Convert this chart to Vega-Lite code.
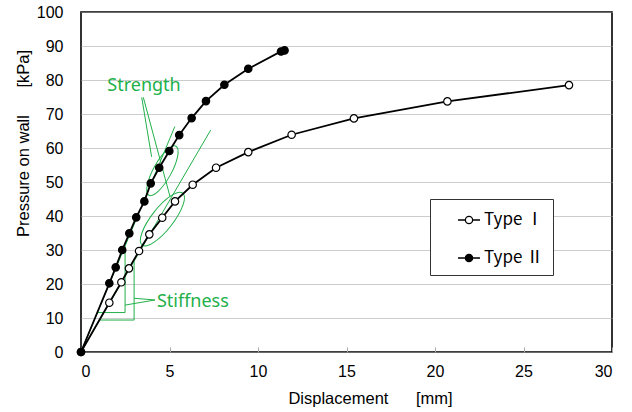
{
  "$schema": "https://vega.github.io/schema/vega-lite/v6.json",
  "width": 531,
  "height": 340,
  "autosize": {"type": "none"},
  "padding": {"left": 81, "top": 12, "right": 20, "bottom": 60},
  "background": "white",
  "config": {
    "view": {"stroke": "black", "strokeWidth": 1.6},
    "font": "Liberation Sans"
  },
  "datasets": {
    "curves": [
      {"type": "Type Ⅰ", "x": 0, "y": 0},
      {"type": "Type Ⅰ", "x": 1.6, "y": 14.5},
      {"type": "Type Ⅰ", "x": 2.28, "y": 20.5},
      {"type": "Type Ⅰ", "x": 2.71, "y": 24.6},
      {"type": "Type Ⅰ", "x": 3.28, "y": 29.7},
      {"type": "Type Ⅰ", "x": 3.86, "y": 34.6},
      {"type": "Type Ⅰ", "x": 4.59, "y": 39.5},
      {"type": "Type Ⅰ", "x": 5.31, "y": 44.3},
      {"type": "Type Ⅰ", "x": 6.31, "y": 49.2},
      {"type": "Type Ⅰ", "x": 7.63, "y": 54.2},
      {"type": "Type Ⅰ", "x": 9.45, "y": 58.8},
      {"type": "Type Ⅰ", "x": 11.9, "y": 63.9},
      {"type": "Type Ⅰ", "x": 15.42, "y": 68.7},
      {"type": "Type Ⅰ", "x": 20.7, "y": 73.7},
      {"type": "Type Ⅰ", "x": 27.57, "y": 78.5},
      {"type": "Type Ⅱ", "x": 0, "y": 0},
      {"type": "Type Ⅱ", "x": 1.6, "y": 20.2},
      {"type": "Type Ⅱ", "x": 1.96, "y": 24.9},
      {"type": "Type Ⅱ", "x": 2.33, "y": 30.0},
      {"type": "Type Ⅱ", "x": 2.73, "y": 34.9},
      {"type": "Type Ⅱ", "x": 3.12, "y": 39.6},
      {"type": "Type Ⅱ", "x": 3.58, "y": 44.3},
      {"type": "Type Ⅱ", "x": 3.94, "y": 49.6},
      {"type": "Type Ⅱ", "x": 4.42, "y": 54.2},
      {"type": "Type Ⅱ", "x": 4.99, "y": 59.1},
      {"type": "Type Ⅱ", "x": 5.55, "y": 63.8},
      {"type": "Type Ⅱ", "x": 6.25, "y": 68.8},
      {"type": "Type Ⅱ", "x": 7.06, "y": 73.8},
      {"type": "Type Ⅱ", "x": 8.1, "y": 78.6},
      {"type": "Type Ⅱ", "x": 9.45, "y": 83.3},
      {"type": "Type Ⅱ", "x": 11.3, "y": 88.4},
      {"type": "Type Ⅱ", "x": 11.5, "y": 88.7}
    ],
    "ann": [
      {"id": "A", "o": 1, "x": 0, "y": 0},
      {"id": "A", "o": 2, "x": 5.3, "y": 66.3},
      {"id": "B", "o": 1, "x": 0, "y": 0},
      {"id": "B", "o": 2, "x": 7.33, "y": 65.3},
      {"id": "T2", "o": 1, "x": 0.93, "y": 11.6},
      {"id": "T2", "o": 2, "x": 2.49, "y": 11.6},
      {"id": "T2", "o": 3, "x": 2.49, "y": 31.1},
      {"id": "T1", "o": 1, "x": 1.06, "y": 9.4},
      {"id": "T1", "o": 2, "x": 3.0, "y": 9.4},
      {"id": "T1", "o": 3, "x": 3.0, "y": 26.7},
      {"id": "L1", "o": 1, "x": 4.18, "y": 15.3},
      {"id": "L1", "o": 2, "x": 2.49, "y": 13.8},
      {"id": "L2", "o": 1, "x": 4.18, "y": 15.3},
      {"id": "L2", "o": 2, "x": 3.0, "y": 15.8},
      {"id": "S1", "o": 1, "x": 3.43, "y": 74.9},
      {"id": "S1", "o": 2, "x": 3.99, "y": 57.4},
      {"id": "S2", "o": 1, "x": 3.52, "y": 74.9},
      {"id": "S2", "o": 2, "x": 5.03, "y": 45.7}
    ]
  },
  "encoding": {
    "x": {"field": "x", "type": "quantitative", "scale": {"domain": [0, 30], "nice": false},
      "axis": {"values": [0, 5, 10, 15, 20, 25, 30], "labelOverlap": false, "grid": false, "domain": false, "tickColor": "#aaaaaa", "tickSize": -5, "labelFontSize": 16, "labelPadding": 16, "labelColor": "black", "title": "Displacement\u00a0\u00a0\u00a0\u00a0\u00a0 [mm]", "titleFontSize": 16.5, "titleFontWeight": "normal", "titleX": 289, "titleY": 46, "titleAlign": "center", "titleBaseline": "middle", "titleColor": "black"}},
    "y": {"field": "y", "type": "quantitative", "scale": {"domain": [0, 100], "nice": false},
      "axis": {"values": [0, 10, 20, 30, 40, 50, 60, 70, 80, 90, 100], "labelOverlap": false, "grid": true, "gridColor": "#999999", "gridDash": [1, 1], "gridWidth": 1, "domain": false, "ticks": false, "labelFontSize": 16, "labelPadding": 18, "labelColor": "black", "title": "Pressure on wall\u00a0\u00a0\u00a0\u00a0\u00a0 [kPa]", "titleFontSize": 16.5, "titleFontWeight": "normal", "titleX": -58, "titleY": 131, "titleAngle": -90, "titleAlign": "center", "titleBaseline": "middle", "titleColor": "black"}}
  },
  "layer": [
    {
      "data": {"name": "ann"},
      "mark": {"type": "line", "color": "#22b04a", "strokeWidth": 1},
      "encoding": {
        "detail": {"field": "id"},
        "order": {"field": "o"}
      }
    },
    {
      "data": {"values": [{"x": 4.6, "y": 53.3}]},
      "mark": {"type": "point", "shape": "M -1 0 A 1 0.32 0 1 1 1 0 A 1 0.32 0 1 1 -1 0 Z", "size": 3136, "angle": -61, "filled": false, "stroke": "#22b04a", "strokeWidth": 1, "opacity": 1}
    },
    {
      "data": {"values": [{"x": 4.6, "y": 39.1}]},
      "mark": {"type": "point", "shape": "M -1 0 A 1 0.33 0 1 1 1 0 A 1 0.33 0 1 1 -1 0 Z", "size": 4356, "angle": -52, "filled": false, "stroke": "#22b04a", "strokeWidth": 1, "opacity": 1}
    },
    {
      "data": {"values": [{"x": 3.56, "y": 78.2, "t": "Strength"}]},
      "mark": {"type": "text", "font": "Noto Sans", "fontSize": 18, "color": "#22b04a", "align": "center", "baseline": "middle"},
      "encoding": {"text": {"field": "t"}}
    },
    {
      "data": {"values": [{"x": 4.29, "y": 14.6, "t": "Stiffness"}]},
      "mark": {"type": "text", "font": "Noto Sans", "fontSize": 18, "color": "#22b04a", "align": "left", "baseline": "middle"},
      "encoding": {"text": {"field": "t"}}
    },
    {
      "data": {"name": "curves"},
      "mark": {"type": "line", "color": "black", "strokeWidth": 1.8},
      "encoding": {"detail": {"field": "type"}}
    },
    {
      "data": {"name": "curves"},
      "mark": {"type": "point", "filled": true, "stroke": "black", "strokeWidth": 1.2, "size": 55, "opacity": 1},
      "encoding": {
        "fill": {"field": "type", "type": "nominal", "scale": {"range": ["white", "black"]},
          "legend": {"orient": "none", "legendX": 349, "legendY": 187, "title": null, "strokeColor": "#333333", "fillColor": "white", "padding": 9, "symbolOffset": 18, "symbolType": "M-1,0H-0.33M0.33,0H1M0.33,0A0.33,0.33,0,1,1,-0.33,0A0.33,0.33,0,1,1,0.33,0Z", "symbolSize": 484, "symbolStrokeColor": "black", "symbolStrokeWidth": 1.3, "symbolOpacity": 1, "labelFont": "Noto Sans CJK JP", "labelFontSize": 17, "labelColor": "black", "labelOffset": 3, "rowPadding": 18, "labelExpr": "datum.label + '　'"}}
      }
    }
  ]
}
